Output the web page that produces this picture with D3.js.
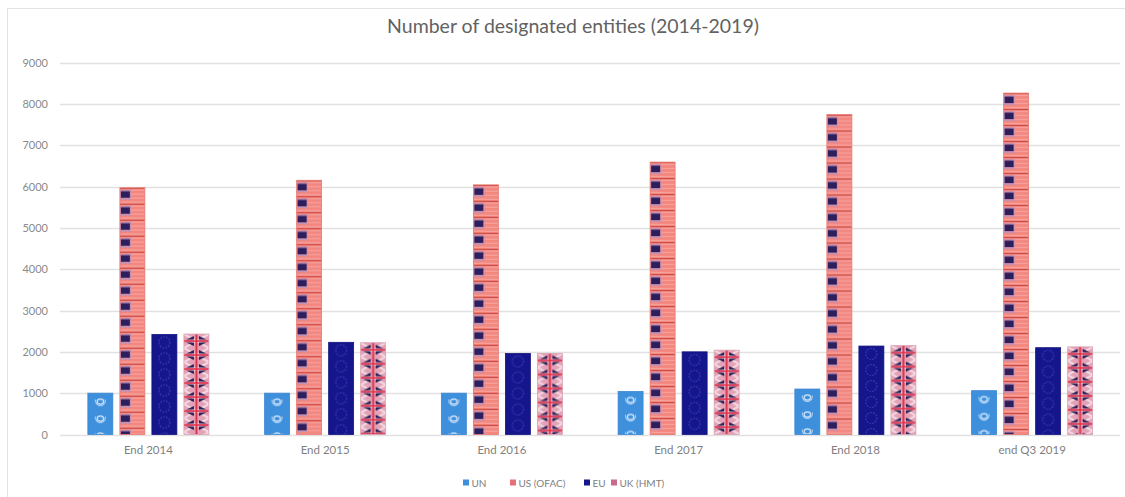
<!DOCTYPE html>
<html>
<head>
<meta charset="utf-8">
<script src="https://cdn.jsdelivr.net/npm/d3@7"></script>
<style>
  html, body { margin: 0; padding: 0; background: #fff; }
  svg { display: block; }
  text { font-family: Lato, "Open Sans", sans-serif; }
</style>
</head>
<body>
<svg id="chart" width="1125" height="497"></svg>
<script>
const title = "Number of designated entities (2014-2019)";
const categories = ["End 2014", "End 2015", "End 2016", "End 2017", "End 2018", "end Q3 2019"];
const seriesNames = ["UN", "US (OFAC)", "EU", "UK (HMT)"];
const unValues  = [1000, 1000, 1000, 1040, 1100, 1060];
const usValues  = [5970, 6150, 6040, 6590, 7740, 8260];
const euValues  = [2420, 2230, 1960, 2000, 2140, 2100];
const ukValues  = [2430, 2220, 1960, 2040, 2150, 2120];
const yTicks = [0, 1000, 2000, 3000, 4000, 5000, 6000, 7000, 8000, 9000];

const seriesValues = [unValues, usValues, euValues, ukValues];
const svg = d3.select("#chart");
const defs = svg.append("defs");

// chart border
svg.append("rect").attr("x", 7.5).attr("y", 8.5).attr("width", 1125).attr("height", 600)
  .attr("fill", "none").attr("stroke", "#e3e3e3").attr("stroke-width", 1);

const x0 = d3.scaleBand().domain(categories).range([60, 1120.5]).padding(0);
const x1 = d3.scaleBand().domain(seriesNames).range([0, x0.bandwidth()])
  .paddingInner(0.22).paddingOuter(0.87);
const y = d3.scaleLinear().domain([0, 9000]).range([434.5, 62.5]);

// gridlines
svg.append("g").selectAll("line").data(yTicks).join("line")
  .attr("x1", 60).attr("x2", 1120)
  .attr("y1", d => Math.round(y(d)) + 0.5).attr("y2", d => Math.round(y(d)) + 0.5)
  .attr("stroke", "#e1e1e1").attr("stroke-width", 1.3);

// y axis labels
const yAxis = d3.axisLeft(y).tickValues(yTicks).tickSize(0).tickPadding(0).tickFormat(d3.format("d"));
const gy = svg.append("g").attr("transform", "translate(48,0)").call(yAxis);
gy.select(".domain").remove();
gy.selectAll("text").attr("fill", "#8a8a8a").style("font-size", "11px").style("font-family", "Lato, sans-serif");

// x axis labels
const xAxis = d3.axisBottom(x0).tickSize(0).tickPadding(0);
const gx = svg.append("g").attr("transform", "translate(0,446)").call(xAxis);
gx.select(".domain").remove();
gx.selectAll("text").attr("fill", "#808080").style("font-size", "11.5px").style("font-family", "Lato, sans-serif");

// title
svg.append("text").attr("x", 573).attr("y", 33).attr("text-anchor", "middle")
  .attr("fill", "#626262").style("font-size", "19.5px").text(title);

// pattern builders
const bw = x1.bandwidth();
function buildPattern(id, si, px, py) {
  const tileH = [17, 16, 16, 14][si];
  const p = defs.append("pattern").attr("id", id).attr("patternUnits", "userSpaceOnUse")
    .attr("x", px).attr("y", py).attr("width", bw).attr("height", tileH);
  const w = bw;
  if (si === 0) { // UN flag
    p.append("rect").attr("width", w).attr("height", tileH).attr("fill", "#3e90dd");
    p.append("ellipse").attr("cx", w / 2).attr("cy", tileH / 2).attr("rx", 3.2).attr("ry", 2.6)
      .attr("fill", "none").attr("stroke", "#dbeafb").attr("stroke-width", 1.1);
    p.append("path").attr("d", `M${w/2-5},${tileH/2-2} Q${w/2-5},${tileH/2+4} ${w/2},${tileH/2+4} Q${w/2+5},${tileH/2+4} ${w/2+5},${tileH/2-2}`)
      .attr("fill", "none").attr("stroke", "#cfe3f8").attr("stroke-width", 0.9);
  } else if (si === 1) { // US flag
    p.append("rect").attr("width", w).attr("height", tileH).attr("fill", "#f3877f");
    for (let k = 0; k < 4; k++) {
      p.append("rect").attr("x", 0).attr("y", k * 4 + 1.8).attr("width", w).attr("height", 1.2).attr("fill", "#f6a29d");
    }
    p.append("rect").attr("x", 0).attr("y", 0).attr("width", w).attr("height", 1).attr("fill", "#c8453f");
    p.append("rect").attr("x", 0).attr("y", 2).attr("width", 11).attr("height", 10).attr("fill", "#c690b0");
    p.append("rect").attr("x", 1).attr("y", 3.5).attr("width", 9).attr("height", 6.5).attr("fill", "#2d1f5e");
  } else if (si === 2) { // EU flag
    p.append("rect").attr("width", w).attr("height", tileH).attr("fill", "#16168c");
    p.append("circle").attr("cx", w / 2).attr("cy", tileH / 2).attr("r", 5.5)
      .attr("fill", "none").attr("stroke", "#3a48c8").attr("stroke-width", 1).attr("stroke-dasharray", "1.5,1.5");
  } else { // UK flag
    p.append("rect").attr("width", w).attr("height", tileH).attr("fill", "#e4a2b6");
    p.append("path").attr("d", `M0,0 L${w},${tileH} M${w},0 L0,${tileH}`).attr("stroke", "#f3d9e2").attr("stroke-width", 2);
    const cx = w / 2, cy = tileH / 2;
    const tri = [
      `M2.5,${cy-1.5} L${cx-2.5},${cy-1.5} L${cx-2.5},2 Z`,
      `M2.5,${cy+1.5} L${cx-2.5},${cy+1.5} L${cx-2.5},${tileH-2} Z`,
      `M${w-2.5},${cy-1.5} L${cx+2.5},${cy-1.5} L${cx+2.5},2 Z`,
      `M${w-2.5},${cy+1.5} L${cx+2.5},${cy+1.5} L${cx+2.5},${tileH-2} Z`
    ];
    tri.forEach(d => p.append("path").attr("d", d).attr("fill", "#2a1f55"));
    p.append("rect").attr("x", cx - 1).attr("y", 0).attr("width", 2).attr("height", tileH).attr("fill", "#e0304a");
    p.append("rect").attr("x", 0).attr("y", cy - 0.8).attr("width", w).attr("height", 1.6).attr("fill", "#e0304a");
  }
}

const outline = ["#3a86d0", "#e77870", "#121280", "#d9a0b2"];

// bars
const groups = svg.append("g").selectAll("g").data(categories).join("g")
  .attr("transform", c => `translate(${x0(c)},0)`);

groups.each(function (c, ci) {
  const g = d3.select(this);
  seriesNames.forEach((s, si) => {
    const v = seriesValues[si][ci];
    const id = `pat-${ci}-${si}`;
    buildPattern(id, si, x1(s), y(v));
    g.append("rect")
      .attr("x", x1(s)).attr("y", y(v))
      .attr("width", x1.bandwidth()).attr("height", y(0) - y(v))
      .attr("fill", `url(#${id})`)
      .attr("stroke", outline[si]).attr("stroke-width", 0.8);
  });
});

// legend
const legendColors = ["#3e90dd", "#e5707a", "#16168c", "#c76a8e"];
const legendX = [463, 510, 584, 611];
const lg = svg.append("g");
seriesNames.forEach((s, i) => {
  const item = lg.append("g").attr("transform", `translate(${legendX[i]},483)`);
  item.append("rect").attr("x", 0).attr("y", -3.5).attr("width", 6).attr("height", 6).attr("fill", legendColors[i]);
  item.append("text").attr("x", 8.5).attr("y", 0).attr("dy", "0.35em")
    .attr("fill", "#808080").style("font-size", "10px").text(s);
});
</script>
</body>
</html>
